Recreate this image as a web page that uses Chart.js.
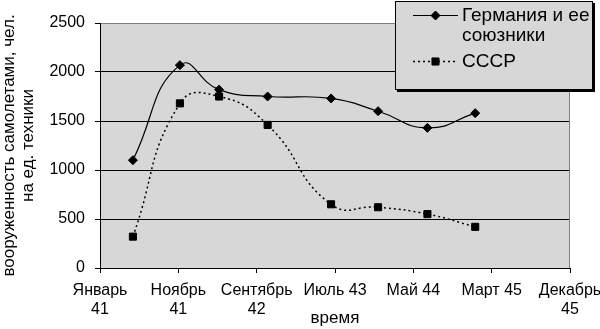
<!DOCTYPE html>
<html><head><meta charset="utf-8">
<script src="https://cdn.jsdelivr.net/npm/chart.js@4/dist/chart.umd.min.js"></script>
<style>html,body{margin:0;padding:0;background:#fff}#wrap{width:600px;height:329px;position:relative}</style>
</head><body><div id="wrap"><canvas id="c" width="600" height="329"></canvas></div>
<script>
// ---- data ----
const tickLabels = [["Январь","41"],["Ноябрь","41"],["Сентябрь","42"],"Июль 43","Май 44","Март 45",["Декабрь","45"]];
const xPositions = [4.2, 10.2, 15.2, 21.4, 29.5, 35.5, 41.8, 47.9];
const germany = [1100, 2070, 1820, 1750, 1730, 1600, 1430, 1580];
const ussr = [320, 1680, 1750, 1460, 650, 620, 550, 420];
const seriesNames = [["Германия и ее","союзники"], ["СССР"]];
const yTitle = ["вооруженность самолетами, чел.", "на ед. техники"];
const xTitle = "время";

// ---- styling ----
const FONT = "'Liberation Sans', Arial, sans-serif";
const PLOT_GRAY = '#d7d7d7';
const toPts = (xs, ys) => xs.map((x, i) => ({x: x, y: ys[i]}));

const plotPlugin = {
  id: 'plotBg',
  beforeDraw(chart) {
    const {ctx, chartArea: a} = chart;
    ctx.save();
    ctx.fillStyle = PLOT_GRAY;
    ctx.fillRect(a.left, a.top, a.right - a.left, a.bottom - a.top);
    ctx.restore();
  },
  beforeDatasetsDraw(chart) {
    const {ctx, chartArea: a} = chart;
    ctx.save();
    ctx.strokeStyle = '#808080';
    ctx.lineWidth = 1;
    ctx.beginPath();
    ctx.moveTo(Math.round(a.right) - 0.5, a.top);
    ctx.lineTo(Math.round(a.right) - 0.5, a.bottom);
    ctx.stroke();
    ctx.restore();
  },
  afterDraw(chart) {
    const ctx = chart.ctx;
    ctx.save();
    const bx = 395, by = 1, bw = 197, bh = 88;
    ctx.fillStyle = '#000';
    ctx.fillRect(bx + 2, by + 2, bw + 1, bh + 1);
    ctx.fillStyle = PLOT_GRAY;
    ctx.fillRect(bx, by, bw, bh);
    ctx.strokeStyle = '#000';
    ctx.lineWidth = 1;
    ctx.strokeRect(bx + 0.5, by + 0.5, bw, bh);
    ctx.font = '19px ' + FONT;
    ctx.textBaseline = 'middle';
    ctx.textAlign = 'left';
    const rows = [15, 61];
    chart.data.datasets.forEach((ds, i) => {
      const y = rows[i];
      ctx.save();
      ctx.strokeStyle = ds.borderColor;
      ctx.lineWidth = ds.borderWidth;
      ctx.setLineDash(ds.borderDash || []);
      ctx.beginPath();
      ctx.moveTo(413, y + 0.5);
      ctx.lineTo(458, y + 0.5);
      ctx.stroke();
      ctx.restore();
      ctx.fillStyle = '#000';
      ctx.strokeStyle = '#000';
      Chart.helpers.drawPoint(ctx, {pointStyle: ds.pointStyle, radius: ds.pointRadius, rotation: 0, borderWidth: 1}, 435.5, y + 0.5);
      ctx.fillStyle = '#000';
      ds.label.forEach((t, j) => ctx.fillText(t, 462, y + 1 + j * 20));
    });
    ctx.restore();
  }
};

const ctx = document.getElementById('c').getContext('2d');
new Chart(ctx, {
  type: 'line',
  data: {
    datasets: [
      {
        label: seriesNames[0],
        data: toPts(xPositions, germany),
        borderColor: '#000', backgroundColor: '#000',
        borderWidth: 1.2, tension: 0.5,
        pointStyle: 'rectRot', pointRadius: 4.5,
        pointBackgroundColor: '#000', pointBorderColor: '#000', pointBorderWidth: 1,
        fill: false
      },
      {
        label: seriesNames[1],
        data: toPts(xPositions, ussr),
        borderColor: '#000', backgroundColor: '#000',
        borderWidth: 1.5, borderDash: [2, 3], tension: 0.5,
        pointStyle: 'rect', pointRadius: 5,
        pointBackgroundColor: '#000', pointBorderColor: '#000', pointBorderWidth: 1,
        fill: false
      }
    ]
  },
  options: {
    responsive: false,
    animation: false,
    devicePixelRatio: 1,
    layout: {padding: {left: 0, right: 30, top: 23, bottom: 0}},
    plugins: {legend: {display: false}, tooltip: {enabled: false}},
    scales: {
      x: {
        type: 'linear', min: 0, max: 60,
        afterFit(s) { s.height = 61; s.paddingLeft = 0; s.paddingRight = 0; },
        afterBuildTicks(s) { s.ticks = tickLabels.map((_, i) => ({value: i * 10})); },
        ticks: {
          autoSkip: false, maxRotation: 0, minRotation: 0, padding: 8, color: '#000',
          font: {family: FONT, size: 16, lineHeight: 1.2},
          callback: (v) => tickLabels[Math.round(v / 10)]
        },
        grid: {display: true, drawOnChartArea: false, drawTicks: true, tickLength: 5, color: '#000'},
        border: {display: true, color: '#000', width: 1},
        title: {display: true, text: xTitle, color: '#000', font: {family: FONT, size: 17, lineHeight: 1.2}, padding: {top: 0, bottom: 0}}
      },
      y: {
        min: 0, max: 2500,
        afterFit(s) { s.width = 100; s.paddingTop = 0; s.paddingBottom = 0; },
        ticks: {stepSize: 500, padding: 10, color: '#000', font: {family: FONT, size: 16}, callback: (v) => String(v)},
        grid: {color: (c) => (c.tick && c.tick.value === 2500) ? '#808080' : '#000', tickColor: '#000', tickLength: 5, drawTicks: true},
        border: {display: true, color: '#000', width: 1},
        title: {display: true, text: yTitle, color: '#000', font: {family: FONT, size: 17, lineHeight: 1.12}, padding: {top: 0, bottom: 0}}
      }
    }
  },
  plugins: [plotPlugin]
});
</script></body></html>
